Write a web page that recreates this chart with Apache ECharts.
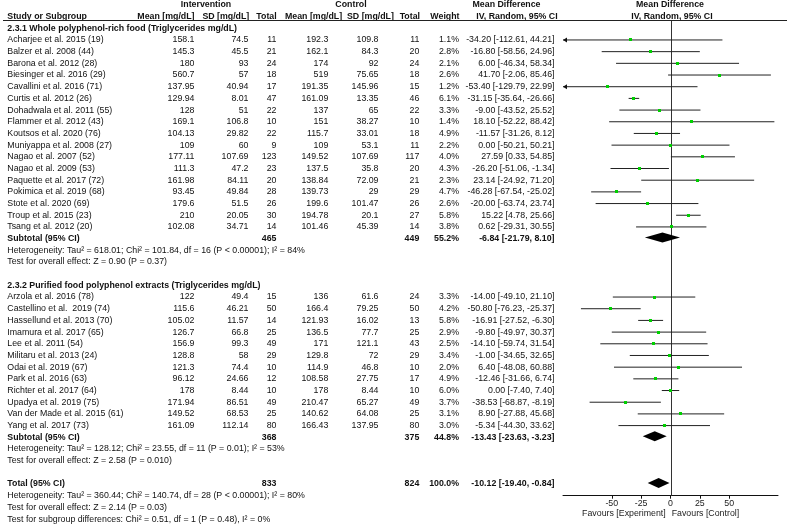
<!DOCTYPE html>
<html><head><meta charset="utf-8">
<script src="https://cdn.jsdelivr.net/npm/echarts@6/dist/echarts.min.js"></script>
<style>html,body{margin:0;padding:0;background:#fff}#c{width:787px;height:527px}</style>
</head><body><div id="c"></div>
<script>
// ---------- DATA ----------
const group1Title = "2.3.1 Whole polyphenol-rich food (Triglycerides mg/dL)";
const g1Studies = ["Acharjee et al. 2015 (19)","Balzer et al. 2008 (44)","Barona et al. 2012 (28)","Biesinger et al. 2016 (29)","Cavallini et al. 2016 (71)","Curtis et al. 2012 (26)","Dohadwala et al. 2011 (55)","Flammer et al. 2012 (43)","Koutsos et al. 2020 (76)","Muniyappa et al. 2008 (27)","Nagao et al. 2007 (52)","Nagao et al. 2009 (53)","Paquette et al. 2017 (72)","Pokimica et al. 2019 (68)","Stote et al. 2020 (69)","Troup et al. 2015 (23)","Tsang et al. 2012 (20)"];
const g1IntMean = [158.1,145.3,180,560.7,137.95,129.94,128,169.1,104.13,109,177.11,111.3,161.98,93.45,179.6,210,102.08];
const g1IntSD = [74.5,45.5,93,57,40.94,8.01,51,106.8,29.82,60,107.69,47.2,84.11,49.84,51.5,20.05,34.71];
const g1IntN = [11,21,24,18,17,47,22,10,22,9,123,23,20,28,26,30,14];
const g1CtlMean = [192.3,162.1,174,519,191.35,161.09,137,151,115.7,109,149.52,137.5,138.84,139.73,199.6,194.78,101.46];
const g1CtlSD = [109.8,84.3,92,75.65,145.96,13.35,65,38.27,33.01,53.1,107.69,35.8,72.09,29,101.47,20.1,45.39];
const g1CtlN = [11,20,24,18,15,46,22,10,18,11,117,20,21,29,26,27,14];
const g1Weight = [1.1,2.8,2.1,2.6,1.2,6.1,3.3,1.4,4.9,2.2,4.0,4.3,2.3,4.7,2.6,5.8,3.8];
const g1MD = [-34.20,-16.80,6.00,41.70,-53.40,-31.15,-9.00,18.10,-11.57,0.00,27.59,-26.20,23.14,-46.28,-20.00,15.22,0.62];
const g1Lo = [-112.61,-58.56,-46.34,-2.06,-129.79,-35.64,-43.52,-52.22,-31.26,-50.21,0.33,-51.06,-24.92,-67.54,-63.74,4.78,-29.31];
const g1Hi = [44.21,24.96,58.34,85.46,22.99,-26.66,25.52,88.42,8.12,50.21,54.85,-1.34,71.20,-25.02,23.74,25.66,30.55];
const g1Subtotal = {intN:465, ctlN:449, weight:55.2, md:-6.84, lo:-21.79, hi:8.10};
const g1Het = "Heterogeneity: Tau\u00b2 = 618.01; Chi\u00b2 = 101.84, df = 16 (P < 0.00001); I\u00b2 = 84%";
const g1Test = "Test for overall effect: Z = 0.90 (P = 0.37)";

const group2Title = "2.3.2 Purified food polyphenol extracts (Triglycerides mg/dL)";
const g2Studies = ["Arzola et al. 2016 (78)","Castellino et al.  2019 (74)","Hassellund et al. 2013 (70)","Imamura et al. 2017 (65)","Lee et al. 2011 (54)","Militaru et al. 2013 (24)","Odai et al. 2019 (67)","Park et al. 2016 (63)","Richter et al. 2017 (64)","Upadya et al. 2019 (75)","Van der Made et al. 2015 (61)","Yang et al. 2017 (73)"];
const g2IntMean = [122,115.6,105.02,126.7,156.9,128.8,121.3,96.12,178,171.94,149.52,161.09];
const g2IntSD = [49.4,46.21,11.57,66.8,99.3,58,74.4,24.66,8.44,86.51,68.53,112.14];
const g2IntN = [15,50,14,25,49,29,10,12,10,49,25,80];
const g2CtlMean = [136,166.4,121.93,136.5,171,129.8,114.9,108.58,178,210.47,140.62,166.43];
const g2CtlSD = [61.6,79.25,16.02,77.7,121.1,72,46.8,27.75,8.44,65.27,64.08,137.95];
const g2CtlN = [24,50,13,25,43,29,10,17,10,49,25,80];
const g2Weight = [3.3,4.2,5.8,2.9,2.5,3.4,2.0,4.9,6.0,3.7,3.1,3.0];
const g2MD = [-14.00,-50.80,-16.91,-9.80,-14.10,-1.00,6.40,-12.46,0.00,-38.53,8.90,-5.34];
const g2Lo = [-49.10,-76.23,-27.52,-49.97,-59.74,-34.65,-48.08,-31.66,-7.40,-68.87,-27.88,-44.30];
const g2Hi = [21.10,-25.37,-6.30,30.37,31.54,32.65,60.88,6.74,7.40,-8.19,45.68,33.62];
const g2Subtotal = {intN:368, ctlN:375, weight:44.8, md:-13.43, lo:-23.63, hi:-3.23};
const g2Het = "Heterogeneity: Tau\u00b2 = 128.12; Chi\u00b2 = 23.55, df = 11 (P = 0.01); I\u00b2 = 53%";
const g2Test = "Test for overall effect: Z = 2.58 (P = 0.010)";

const total = {intN:833, ctlN:824, weight:100.0, md:-10.12, lo:-19.40, hi:-0.84};
const totalHet = "Heterogeneity: Tau\u00b2 = 360.44; Chi\u00b2 = 140.74, df = 28 (P < 0.00001); I\u00b2 = 80%";
const totalTest = "Test for overall effect: Z = 2.14 (P = 0.03)";
const subgroupTest = "Test for subgroup differences: Chi\u00b2 = 0.51, df = 1 (P = 0.48), I\u00b2 = 0%";

const xTicks = [-50, -25, 0, 25, 50];
const xMin = -91.5, xMax = 91.5;

// ---------- ROW LAYOUT ----------
const rows = [];
rows.push({kind:'h0'});
rows.push({kind:'h1'});
function addGroup(title, st, im, isd, inn, cm, csd, cn, w, md, lo, hi, sub, het, test) {
  rows.push({kind:'group', text:title});
  st.forEach((s, i) => rows.push({kind:'study', name:s, im:im[i], isd:isd[i], inn:inn[i], cm:cm[i], csd:csd[i], cn:cn[i], w:w[i], md:md[i], lo:lo[i], hi:hi[i]}));
  rows.push(Object.assign({kind:'sub', name:'Subtotal (95% CI)'}, sub));
  rows.push({kind:'note', text:het});
  rows.push({kind:'note', text:test});
  rows.push({kind:'blank'});
}
addGroup(group1Title, g1Studies, g1IntMean, g1IntSD, g1IntN, g1CtlMean, g1CtlSD, g1CtlN, g1Weight, g1MD, g1Lo, g1Hi, g1Subtotal, g1Het, g1Test);
addGroup(group2Title, g2Studies, g2IntMean, g2IntSD, g2IntN, g2CtlMean, g2CtlSD, g2CtlN, g2Weight, g2MD, g2Lo, g2Hi, g2Subtotal, g2Het, g2Test);
rows.push(Object.assign({kind:'sub', name:'Total (95% CI)'}, total));
rows.push({kind:'note', text:totalHet});
rows.push({kind:'note', text:totalTest});
rows.push({kind:'note', text:subgroupTest});

const FONT = '"Liberation Sans", Arial, Helvetica, sans-serif';
const FS = 8.8;
const COL = {name:7.3, im:194.5, isd:248.5, inn:276.5, cm:328.3, csd:378.5, cn:419.3, w:459, ci:554.5};
const fmtCI = (m, l, h) => m.toFixed(2) + ' [' + l.toFixed(2) + ', ' + h.toFixed(2) + ']';

function T(x, y, s, align, bold) {
  return {type:'text', style:{x:x, y:y, text:String(s), align:align, verticalAlign:'middle',
    fontSize:FS, fontFamily:FONT, fontWeight: bold ? 'bold' : 'normal', fill:'#111'}};
}

function renderTable(params, api) {
  const idx = params.dataIndex;
  const r = rows[idx];
  const y = api.coord([0, idx])[1];
  const ch = [];
  if (r.kind === 'h0') {
    ch.push(T(206, y, 'Intervention', 'center', true));
    ch.push(T(351, y, 'Control', 'center', true));
    ch.push(T(506.5, y, 'Mean Difference', 'center', true));
    ch.push(T(670, y, 'Mean Difference', 'center', true));
  } else if (r.kind === 'h1') {
    ch.push(T(COL.name, y, 'Study or Subgroup', 'left', true));
    ch.push(T(194.5, y, 'Mean [mg/dL]', 'right', true));
    ch.push(T(249.3, y, 'SD [mg/dL]', 'right', true));
    ch.push(T(276.7, y, 'Total', 'right', true));
    ch.push(T(285, y, 'Mean [mg/dL]', 'left', true));
    ch.push(T(347, y, 'SD [mg/dL]', 'left', true));
    ch.push(T(420, y, 'Total', 'right', true));
    ch.push(T(459.5, y, 'Weight', 'right', true));
    ch.push(T(517, y, 'IV, Random, 95% CI', 'center', true));
    ch.push(T(672, y, 'IV, Random, 95% CI', 'center', true));
  } else if (r.kind === 'group') {
    ch.push(T(COL.name, y, r.text, 'left', true));
  } else if (r.kind === 'study') {
    ch.push(T(COL.name, y, r.name, 'left', false));
    ch.push(T(COL.im, y, r.im, 'right', false));
    ch.push(T(COL.isd, y, r.isd, 'right', false));
    ch.push(T(COL.inn, y, r.inn, 'right', false));
    ch.push(T(COL.cm, y, r.cm, 'right', false));
    ch.push(T(COL.csd, y, r.csd, 'right', false));
    ch.push(T(COL.cn, y, r.cn, 'right', false));
    ch.push(T(COL.w, y, r.w.toFixed(1) + '%', 'right', false));
    ch.push(T(COL.ci, y, fmtCI(r.md, r.lo, r.hi), 'right', false));
  } else if (r.kind === 'sub') {
    ch.push(T(COL.name, y, r.name, 'left', true));
    ch.push(T(COL.inn, y, r.intN, 'right', true));
    ch.push(T(COL.cn, y, r.ctlN, 'right', true));
    ch.push(T(COL.w, y, r.weight.toFixed(1) + '%', 'right', true));
    ch.push(T(COL.ci, y, fmtCI(r.md, r.lo, r.hi), 'right', true));
  } else if (r.kind === 'note') {
    ch.push(T(COL.name, y, r.text, 'left', false));
  }
  return {type:'group', children:ch};
}

const studyData = [], diamondData = [];
rows.forEach((r, i) => {
  if (r.kind === 'study') studyData.push([r.md, r.lo, r.hi, i, r.w]);
  if (r.kind === 'sub') diamondData.push([r.md, r.lo, r.hi, i]);
});

function renderStudy(params, api) {
  const md = api.value(0), lo = api.value(1), hi = api.value(2), row = api.value(3), w = api.value(4);
  const loC = Math.max(lo, xMin), hiC = Math.min(hi, xMax);
  const p1 = api.coord([loC, row]), p2 = api.coord([hiC, row]), pm = api.coord([md, row]);
  const ch = [{type:'line', shape:{x1:p1[0], y1:p1[1], x2:p2[0], y2:p2[1]}, style:{stroke:'#222', lineWidth:1}}];
  if (lo < xMin) {
    ch.push({type:'polygon', shape:{points:[[p1[0], p1[1]], [p1[0] + 4, p1[1] - 2.5], [p1[0] + 4, p1[1] + 2.5]]}, style:{fill:'#111'}});
  }
  if (hi > xMax) {
    ch.push({type:'polygon', shape:{points:[[p2[0], p2[1]], [p2[0] - 4, p2[1] - 2.5], [p2[0] - 4, p2[1] + 2.5]]}, style:{fill:'#111'}});
  }
  const s = Math.round(2.6 + w * 0.1);
  ch.push({type:'rect', z2:5, shape:{x:Math.round(pm[0] - s / 2), y:Math.round(pm[1] - s / 2), width:s, height:s}, style:{fill:'#00d000'}});
  return {type:'group', children:ch};
}

function renderDiamond(params, api) {
  const md = api.value(0), lo = api.value(1), hi = api.value(2), row = api.value(3);
  const a = api.coord([lo, row]), b = api.coord([md, row]), c = api.coord([hi, row]);
  const h = 5;
  return {type:'polygon', shape:{points:[[a[0], a[1] - 1], [b[0], b[1] - 1 - h], [c[0], c[1] - 1], [b[0], b[1] - 1 + h]]}, style:{fill:'#000'}};
}

function renderZero(params, api) {
  const t = api.coord([0, 1.35]), b = api.coord([0, 42]);
  return {type:'line', shape:{x1:Math.round(t[0]) + 0.5, y1:t[1], x2:Math.round(b[0]) + 0.5, y2:b[1]}, style:{stroke:'#333', lineWidth:1}};
}

const chart = echarts.init(document.getElementById('c'), null, {renderer:'canvas'});
chart.setOption({
  animation:false,
  backgroundColor:'#fff',
  grid:{left:563, width:215, top:0, height:495.7, containLabel:false},
  xAxis:{type:'value', min:xMin, max:xMax, position:'bottom',
    axisLine:{show:true, onZero:false, lineStyle:{color:'#111', width:1}},
    axisTick:{show:true, inside:false, length:3, customValues:xTicks, lineStyle:{color:'#111'}},
    axisLabel:{show:true, customValues:xTicks, fontSize:FS, fontFamily:FONT, color:'#222', margin:3},
    splitLine:{show:false}},
  yAxis:{type:'value', inverse:true, min:-0.42, max:42, show:false},
  graphic:[
    {type:'line', shape:{x1:3, y1:20.5, x2:787, y2:20.5}, style:{stroke:'#222', lineWidth:1}, z:10},
    {type:'text', x:665.7, y:513.3, style:{text:'Favours [Experiment]', align:'right', verticalAlign:'middle', fontSize:FS, fontFamily:FONT, fill:'#222'}},
    {type:'text', x:671.7, y:513.3, style:{text:'Favours [Control]', align:'left', verticalAlign:'middle', fontSize:FS, fontFamily:FONT, fill:'#222'}}
  ],
  series:[
    {type:'custom', clip:false, renderItem:renderTable, data:rows.map((r, i) => [0, i]), silent:true},
    {type:'custom', clip:false, renderItem:renderZero, data:[[0, 0]], silent:true},
    {type:'custom', clip:false, renderItem:renderStudy, data:studyData, silent:true, z:3},
    {type:'custom', clip:false, renderItem:renderDiamond, data:diamondData, silent:true, z:4}
  ]
});
</script>
</body></html>
